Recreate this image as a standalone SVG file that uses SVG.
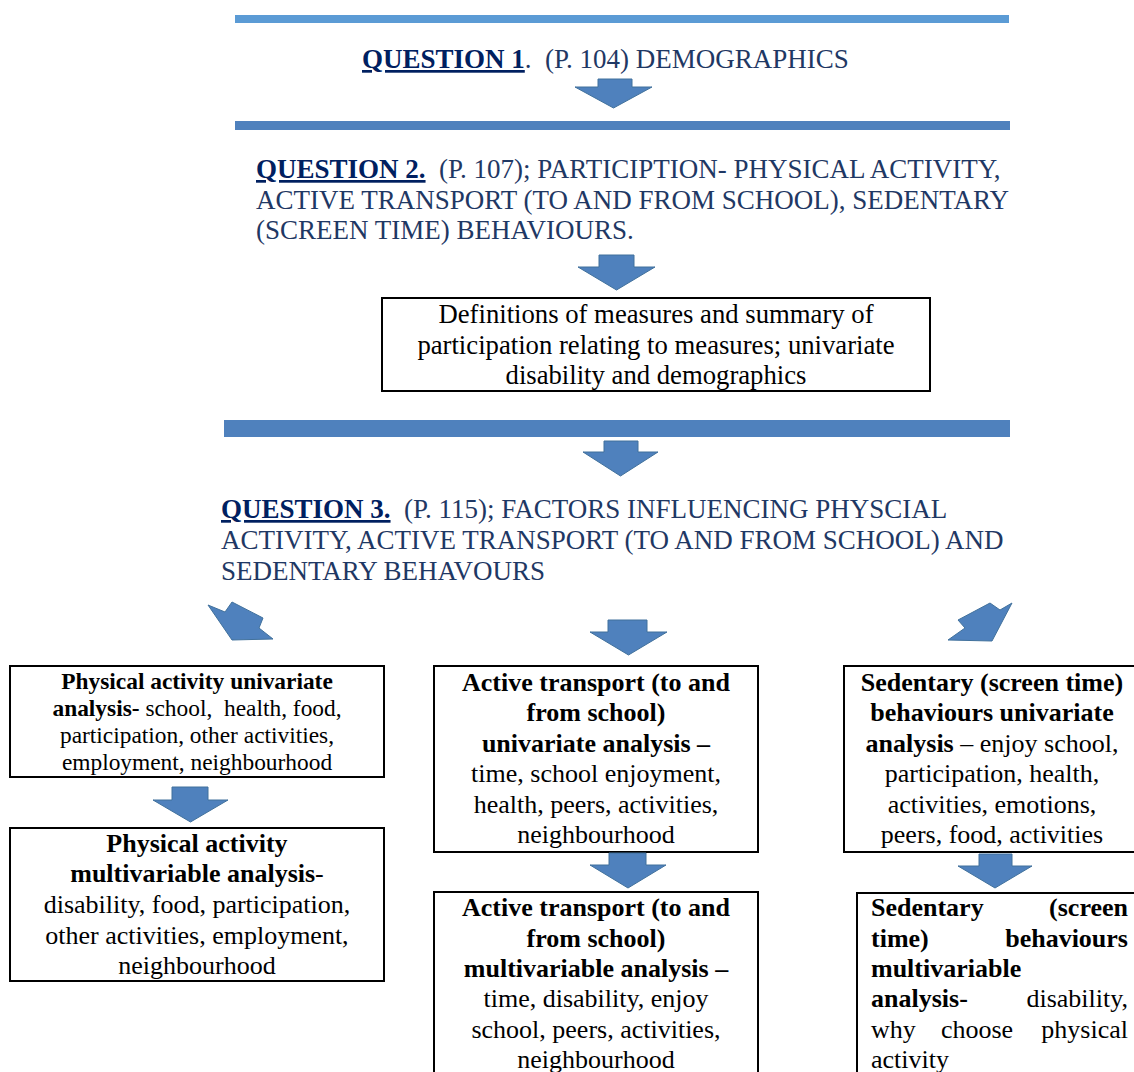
<svg xmlns="http://www.w3.org/2000/svg" width="1134" height="1072" viewBox="0 0 1134 1072">
<style>
text{font-family:"Liberation Serif","Times New Roman",serif;}
.hd{font-size:27px;fill:#1F3864;}
.q{font-weight:bold;text-decoration:underline;fill:#002060;}
.bx{font-size:26px;fill:#000;}
.def{font-size:26.7px;}
.sm{font-size:23.4px;}
.b{font-weight:bold;}
.box{fill:#fff;stroke:#000;stroke-width:2;}
.arr{fill:#4F81BD;stroke:#41719C;stroke-width:1;stroke-linejoin:round;}
</style>
<rect width="1134" height="1072" fill="#fff"/>
<g id="dividers">
<rect x="235" y="15" width="774" height="8" fill="#5B9BD5"/>
<rect x="235" y="121" width="775" height="9" fill="#4F81BD"/>
<rect x="224" y="420" width="786" height="17" fill="#4F81BD"/>
</g>
<g id="q1">
<text class="hd" x="362" y="68" xml:space="preserve"><tspan class="q">QUESTION 1</tspan>.  (P. 104) DEMOGRAPHICS</text>
</g>
<g id="q2">
<text class="hd" xml:space="preserve"><tspan x="256" y="178"><tspan class="q">QUESTION 2.</tspan>  (P. 107); PARTICIPTION- PHYSICAL ACTIVITY,</tspan><tspan x="256" y="209">ACTIVE TRANSPORT (TO AND FROM SCHOOL), SEDENTARY</tspan><tspan x="256" y="239">(SCREEN TIME) BEHAVIOURS.</tspan></text>
</g>
<g id="definitions">
<rect class="box" x="382" y="298" width="548" height="93"/>
<text class="bx def" text-anchor="middle"><tspan x="656" y="323">Definitions of measures and summary of</tspan><tspan x="656" y="354">participation relating to measures; univariate</tspan><tspan x="656" y="384">disability and demographics</tspan></text>
</g>
<g id="q3">
<text class="hd" xml:space="preserve"><tspan x="221" y="518"><tspan class="q">QUESTION 3.</tspan>  (P. 115); FACTORS INFLUENCING PHYSCIAL</tspan><tspan x="221" y="549">ACTIVITY, ACTIVE TRANSPORT (TO AND FROM SCHOOL) AND</tspan><tspan x="221" y="580">SEDENTARY BEHAVOURS</tspan></text>
</g>
<g id="pa-univariate">
<rect class="box" x="10" y="666" width="374" height="111"/>
<text class="bx sm" text-anchor="middle" xml:space="preserve"><tspan x="197" y="689" class="b">Physical activity univariate</tspan><tspan x="197" y="716"><tspan class="b">analysis-</tspan> school,  health, food,</tspan><tspan x="197" y="743">participation, other activities,</tspan><tspan x="197" y="770">employment, neighbourhood</tspan></text>
</g>
<g id="pa-multivariable">
<rect class="box" x="10" y="828" width="374" height="153"/>
<text class="bx" text-anchor="middle"><tspan x="197" y="852" class="b">Physical activity</tspan><tspan x="197" y="882"><tspan class="b">multivariable analysis</tspan>-</tspan><tspan x="197" y="913">disability, food, participation,</tspan><tspan x="197" y="944">other activities, employment,</tspan><tspan x="197" y="974">neighbourhood</tspan></text>
</g>
<g id="at-univariate">
<rect class="box" x="434" y="666" width="324" height="186"/>
<text class="bx" text-anchor="middle"><tspan x="596" y="691" class="b">Active transport (to and</tspan><tspan x="596" y="721" class="b">from school)</tspan><tspan x="596" y="752" class="b">univariate analysis –</tspan><tspan x="596" y="782">time, school enjoyment,</tspan><tspan x="596" y="813">health, peers, activities,</tspan><tspan x="596" y="843">neighbourhood</tspan></text>
</g>
<g id="at-multivariable">
<rect class="box" x="434" y="892" width="324" height="200"/>
<text class="bx" text-anchor="middle"><tspan x="596" y="916" class="b">Active transport (to and</tspan><tspan x="596" y="947" class="b">from school)</tspan><tspan x="596" y="977" class="b">multivariable analysis –</tspan><tspan x="596" y="1007">time, disability, enjoy</tspan><tspan x="596" y="1038">school, peers, activities,</tspan><tspan x="596" y="1068">neighbourhood</tspan></text>
</g>
<g id="sed-univariate">
<rect class="box" x="844" y="666" width="298" height="186"/>
<text class="bx" text-anchor="middle"><tspan x="992" y="691" class="b">Sedentary (screen time)</tspan><tspan x="992" y="721" class="b">behaviours univariate</tspan><tspan x="992" y="752"><tspan class="b">analysis</tspan> – enjoy school,</tspan><tspan x="992" y="782">participation, health,</tspan><tspan x="992" y="813">activities, emotions,</tspan><tspan x="992" y="843">peers, food, activities</tspan></text>
</g>
<g id="sed-multivariable">
<rect class="box" x="857" y="893" width="290" height="200"/>
<text class="bx b" x="871" y="916">Sedentary</text>
<text class="bx b" x="1128" y="916" text-anchor="end">(screen</text>
<text class="bx b" x="871" y="947">time)</text>
<text class="bx b" x="1128" y="947" text-anchor="end">behaviours</text>
<text class="bx b" x="871" y="977">multivariable</text>
<text class="bx b" x="871" y="1007">analysis-</text>
<text class="bx" x="1128" y="1007" text-anchor="end">disability,</text>
<text class="bx" x="871" y="1038">why</text>
<text class="bx" x="977" y="1038" text-anchor="middle">choose</text>
<text class="bx" x="1128" y="1038" text-anchor="end">physical</text>
<text class="bx" x="871" y="1068">activity</text>
</g>
<g id="connectors">
<polygon class="arr" points="598,79 632,79 632,87 652,87 613.5,108 575,87 598,87"/>
<polygon class="arr" points="599,255 634,255 634,267 655,267 616.5,290 578,267 599,267"/>
<polygon class="arr" points="604,441 638,441 638,452 658,452 620.5,476 583,452 604,452"/>
<polygon class="arr" points="608,620 647,620 647,632 667,632 628.5,655 590,632 608,632"/>
<polygon class="arr" points="172,787 208,787 208,800 228,800 190.5,822 153,800 172,800"/>
<polygon class="arr" points="609,853 646,853 646,865 666,865 628,888 590,865 609,865"/>
<polygon class="arr" points="979,854 1012,854 1012,866 1032,866 995,888 958,866 979,866"/>
<polygon class="arr" points="208,605 225,612 232,602 263,618 259,628 273,639 232,640"/>
<polygon class="arr" points="1012,603 1000,610 990,603 958,620 965,628 948,640 992,641"/>
</g>
</svg>
